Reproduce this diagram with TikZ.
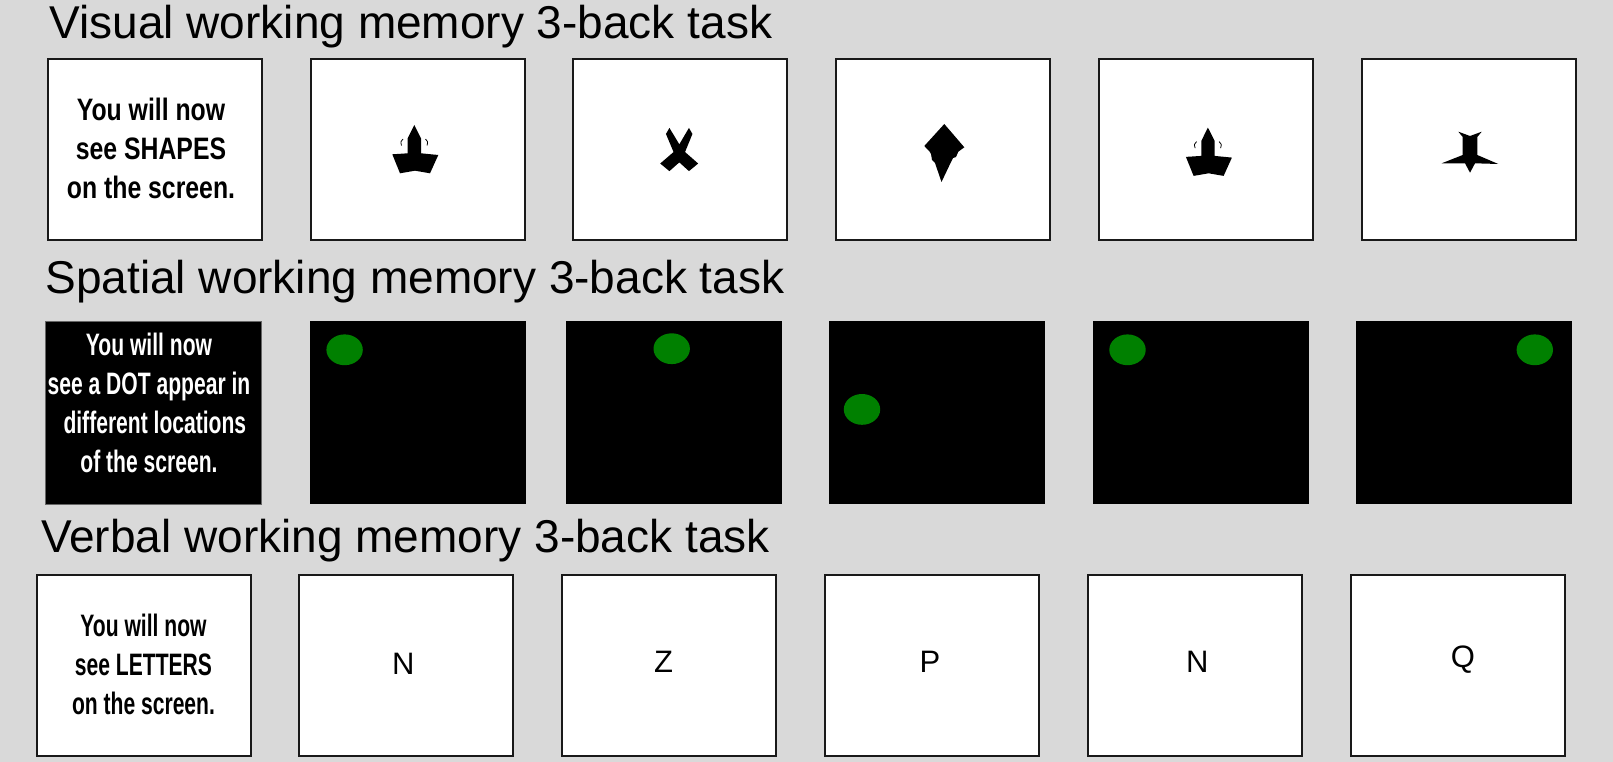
\documentclass[tikz,border=0pt]{standalone}
\usepackage{fontspec}
\setmainfont{Liberation Sans}
\newfontfamily\nbfont[FakeStretch=0.8]{Liberation Sans Bold}
\newfontfamily\nbnarrowfont[FakeStretch=0.68]{Liberation Sans Bold}
\definecolor{bggray}{RGB}{217,217,217}
\definecolor{dotgreen}{RGB}{0,128,0}
\begin{document}
\begin{tikzpicture}[x=1pt,y=-1pt,
  title/.style={anchor=base west,inner sep=0pt,font=\fontsize{46}{55}\selectfont},
  whitebox/.style={draw=black!90,line width=2pt,fill=white,inner sep=0pt,minimum width=214pt,minimum height=181pt},
  blackbox/.style={draw=black!60,line width=0.6pt,fill=black,inner sep=0pt,minimum width=216pt,minimum height=183pt},
  intro/.style={align=center,inner sep=0pt,font=\nbfont\fontsize{31}{39}\selectfont},
  intronarrow/.style={align=center,inner sep=0pt,font=\nbnarrowfont\fontsize{31}{39}\selectfont},
  letter/.style={inner sep=0pt,font=\fontsize{31}{37}\selectfont},
  shapefill/.style={fill=black},
  horn/.style={line width=0.8pt},
  dot/.style={fill=dotgreen}]
\useasboundingbox (0,0) rectangle (1613,762);
\fill[bggray] (0,0) rectangle (1613,762);

% ---------- Visual row ----------
\node[title] (t1) at (49.4,39) {Visual working memory 3-back task};
\node[whitebox] (v1) at (155.3,149.2) {};
\node[whitebox] (v2) at (417.7,149.2) {};
\node[whitebox] (v3) at (680,149.2) {};
\node[whitebox] (v4) at (943.3,149.2) {};
\node[whitebox] (v5) at (1205.6,149.2) {};
\node[whitebox] (v6) at (1469,149.2) {};
\node[intro] (vtext) at (151,148) {You will now\\see SHAPES\\on the screen.};

% shape A in v2
\fill[shapefill] (414.3,125) -- (421,138.3) -- (421,153.3) -- (438.3,155) -- (430,173.3) -- (415,170.7) -- (400,173.3) -- (392.3,154.3) -- (407.7,153.3) -- (407.7,138.3) -- cycle;
\draw[horn] (403,139) .. controls (400.5,141.5) .. (401.5,145.5);
\draw[horn] (425.5,139) .. controls (428,141.5) .. (427,145.5);
% shape B in v3 (scaled about its centre)
\begin{scope}[shift={(679.3,149.5)},scale=1.15,shift={(-679.3,-149.5)}]
\fill[shapefill] (670.7,130.7) -- (679.3,145) -- (687.7,130.7) -- (690.7,136) -- (684.3,151.7) -- (695.7,161.7) -- (687.7,168.3) -- (679.3,160.7) -- (670.7,168.3) -- (662.7,161.7) -- (674.3,151.7) -- (667.7,136) -- cycle;
\end{scope}
% shape C in v4
\fill[shapefill] (944.3,124) -- (964.3,147.3) -- (958.3,151.7) -- (956,157) -- (953,158) -- (951,162) -- (941.5,182) -- (935,163) -- (932,160) -- (931,154) -- (929.5,151.5) -- (924.3,146) -- cycle;
% shape A in v5
\begin{scope}[shift={(793.6,2.6)}]
\fill[shapefill] (414.3,125) -- (421,138.3) -- (421,153.3) -- (438.3,155) -- (430,173.3) -- (415,170.7) -- (400,173.3) -- (392.3,154.3) -- (407.7,153.3) -- (407.7,138.3) -- cycle;
\draw[horn] (403,139) .. controls (400.5,141.5) .. (401.5,145.5);
\draw[horn] (425.5,139) .. controls (428,141.5) .. (427,145.5);
\end{scope}
% shape D in v6
\fill[shapefill] (1458.3,131.7) -- (1470,136) -- (1481.7,131.7) -- (1477.3,137) -- (1477.3,155) -- (1498.3,164) -- (1475,163.3) -- (1470,172.7) -- (1465,163.3) -- (1441.7,163.3) -- (1462.7,155) -- (1462.7,137) -- cycle;

% ---------- Spatial row ----------
\node[title] (t2) at (45.3,293) {Spatial working memory 3-back task};
\node[blackbox] (s1) at (153.3,412.5) {};
\node[blackbox,draw=none] (s2) at (417.6,412.5) {};
\node[blackbox,draw=none] (s3) at (673.8,412.5) {};
\node[blackbox,draw=none] (s4) at (937.1,412.5) {};
\node[blackbox,draw=none] (s5) at (1200.5,412.5) {};
\node[blackbox,draw=none] (s6) at (1463.8,412.5) {};
\node[intronarrow,text=white] (stext) at (149,402.7) {You will now\\see a DOT appear in\\\ \ different locations\\of the screen.};
\fill[dot] (344.6,349.8) ellipse [x radius=18.2, y radius=15.4];
\fill[dot] (671.7,348.7) ellipse [x radius=18.2, y radius=15.4];
\fill[dot] (862,409.4) ellipse [x radius=18.2, y radius=15.4];
\fill[dot] (1127.5,349.8) ellipse [x radius=18.2, y radius=15.4];
\fill[dot] (1534.8,349.8) ellipse [x radius=18.2, y radius=15.4];

% ---------- Verbal row ----------
\node[title] (t3) at (41,552.5) {Verbal working memory 3-back task};
\node[whitebox] (w1) at (144,665) {};
\node[whitebox] (w2) at (406.4,665) {};
\node[whitebox] (w3) at (668.7,665) {};
\node[whitebox] (w4) at (932,665) {};
\node[whitebox] (w5) at (1195.4,665) {};
\node[whitebox] (w6) at (1457.7,665) {};
\node[intronarrow] (wtext) at (143.5,664.5) {You will now\\see LETTERS\\on the screen.};
\node[letter] (l2) at (403.3,663.5) {N};
\node[letter] (l3) at (663.5,661.5) {Z};
\node[letter] (l4) at (930,661.5) {P};
\node[letter] (l5) at (1197.4,661.5) {N};
\node[letter] (l6) at (1462.8,660) {Q};
\end{tikzpicture}
\end{document}
